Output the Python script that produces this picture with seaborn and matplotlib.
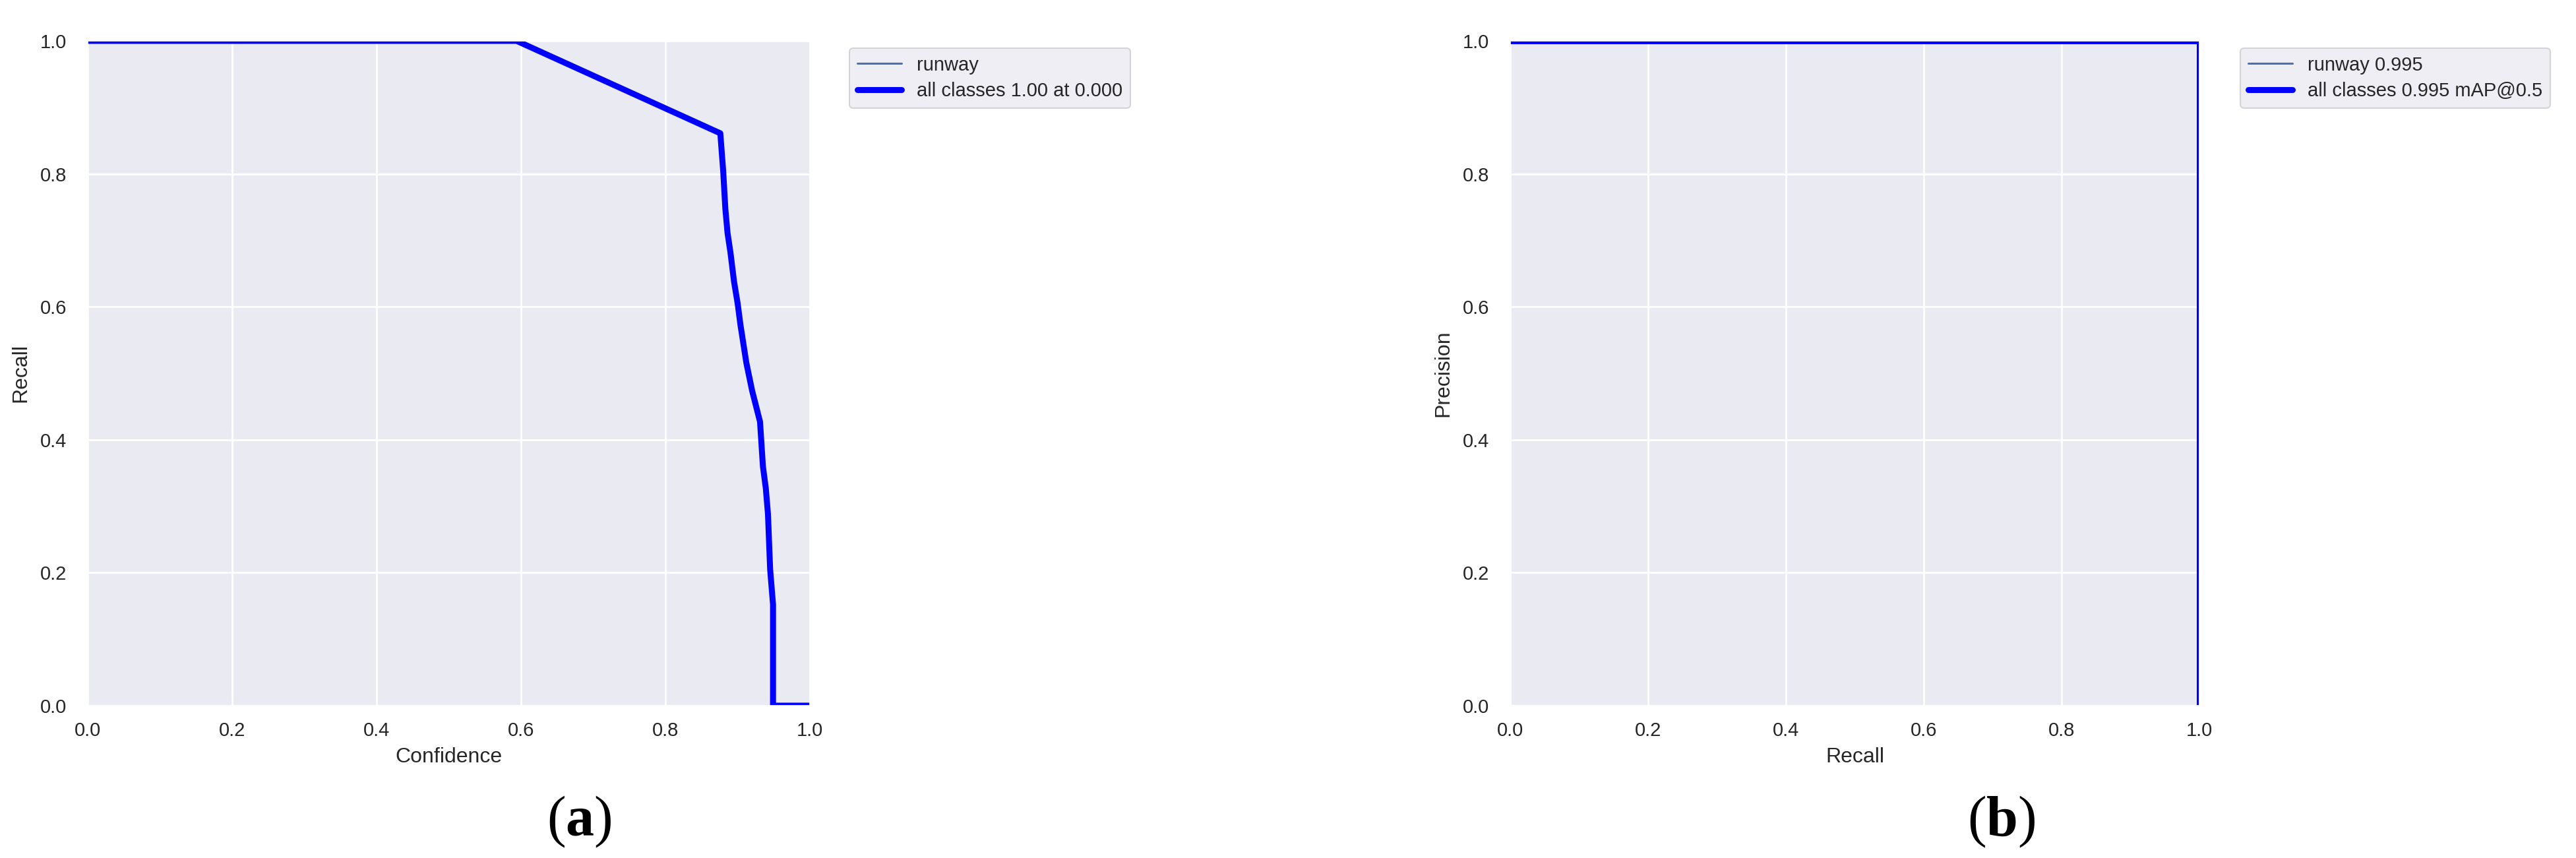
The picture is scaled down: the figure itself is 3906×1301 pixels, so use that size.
import matplotlib
matplotlib.use("Agg")
import matplotlib.pyplot as plt
import seaborn as sns

# Recall-Confidence curve (a)
conf = [0.0, 0.594, 0.876, 0.880, 0.883, 0.886, 0.890, 0.895, 0.900, 0.904,
        0.912, 0.920, 0.931, 0.935, 0.939, 0.942, 0.945, 0.949, 0.949, 1.0]
recall_a = [1.0, 1.0, 0.861, 0.804, 0.747, 0.711, 0.682, 0.638, 0.605, 0.572,
            0.516, 0.474, 0.427, 0.360, 0.327, 0.288, 0.205, 0.152, 0.0, 0.0]

# Precision-Recall curve (b)
recall_b = [0.0, 1.0, 1.0]
precision_b = [1.0, 1.0, 0.0]

labels_a = ["runway", "all classes 1.00 at 0.000"]
labels_b = ["runway 0.995", "all classes 0.995 mAP@0.5"]
ticks = [0.0, 0.2, 0.4, 0.6, 0.8, 1.0]

sns.set_theme(style="darkgrid")
plt.rcParams["font.family"] = ["Liberation Sans", "DejaVu Sans"]
plt.rcParams["mathtext.fontset"] = "custom"
plt.rcParams["mathtext.bf"] = "Liberation Serif:bold"
plt.rcParams["grid.linewidth"] = 2.0

W, H = 3906, 1301
fig = plt.figure(figsize=(W / 100, H / 100), dpi=100)

ax_a = fig.add_axes([133 / W, 1 - 1070 / H, 1095 / W, 1008 / H])
ax_b = fig.add_axes([2290 / W, 1 - 1070 / H, 1045 / W, 1008 / H])

panels = [
    (ax_a, conf, recall_a, labels_a, "Confidence", "Recall", 1288, "(a)", 878),
    (ax_b, recall_b, precision_b, labels_b, "Recall", "Precision", 3397, "(b)", 3035),
]

for ax, xs, ys, labels, xlab, ylab, leg_x, cap, cap_x in panels:
    # per-class line (thin) then mean over classes (thick blue) as in YOLO plots
    sns.lineplot(x=xs, y=ys, ax=ax, sort=False, estimator=None,
                 linewidth=2.2, color="#4c72b0", label=labels[0])
    sns.lineplot(x=xs, y=ys, ax=ax, sort=False, estimator=None,
                 linewidth=6.5, color="blue", label=labels[1])
    ax.set_xlim(0, 1)
    ax.set_ylim(0, 1)
    ax.set_xticks(ticks)
    ax.set_yticks(ticks)
    ax.tick_params(axis="x", labelsize=21, pad=11, colors="#262626")
    ax.tick_params(axis="y", labelsize=21, pad=17, colors="#262626")
    ax.set_xlabel(xlab, fontsize=23, labelpad=8, color="#262626")
    ax.set_ylabel(ylab, fontsize=23, labelpad=10, color="#262626")
    leg = ax.legend(loc="upper left", bbox_to_anchor=(leg_x / W, 1 - 73 / H),
                    bbox_transform=fig.transFigure, borderaxespad=0,
                    fontsize=21, labelspacing=0.4, handlelength=2.3,
                    frameon=True, fancybox=True)
    leg.get_frame().set_edgecolor("0.8")
    leg.get_frame().set_linewidth(1.5)
    fig.text(cap_x / W, 1 - 1246 / H, "(" + r"$\mathbf{" + cap[1] + "}$" + ")",
             ha="center", va="center", fontsize=62, family="Liberation Serif",
             color="black")

fig.savefig("out.png", dpi=100, facecolor="white")
plt.close(fig)
